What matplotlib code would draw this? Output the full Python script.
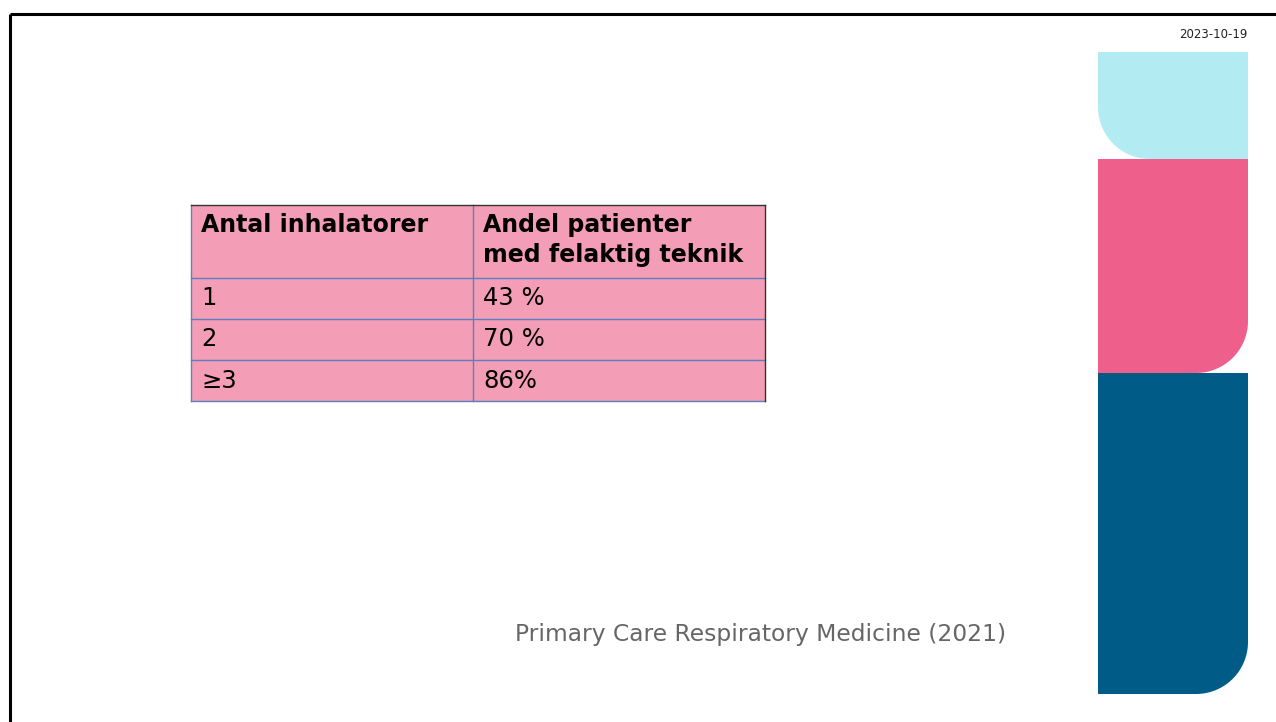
import matplotlib
matplotlib.use('Agg')
import matplotlib.pyplot as plt
from matplotlib.patches import Rectangle, PathPatch
from matplotlib.path import Path
import numpy as np

plt.rcParams['font.family'] = ['DejaVu Sans']

# table content
headers = ["Antal inhalatorer", "Andel patienter\nmed felaktig teknik"]
col1 = ["1", "2", "\u22653"]
col2 = ["43 %", "70 %", "86%"]
date_text = "2023-10-19"
source_text = "Primary Care Respiratory Medicine (2021)"

W, H = 1276, 722
fig = plt.figure(figsize=(W/100, H/100), dpi=100)
ax = fig.add_axes([0, 0, 1, 1])
ax.set_xlim(0, W)
ax.set_ylim(H, 0)
ax.axis('off')

# slide frame
ax.plot([9.5, W], [13.5, 13.5], color="black", lw=2.2, solid_capstyle="butt")
ax.plot([9.5, 9.5], [13.5, H], color="black", lw=2.2, solid_capstyle="butt")


def rounded_block(x0, y0, x1, y1, r, corner, color):
    # rectangle with one rounded bottom corner ("bl" or "br")
    t = np.linspace(0, np.pi/2, 30)
    if corner == "bl":
        cx, cy = x0 + r, y1 - r
        arc = [(cx - r*np.cos(a), cy + r*np.sin(a)) for a in t]
        pts = [(x0, y0), (x1, y0), (x1, y1)] + arc[::-1] + [(x0, y0)]
    else:
        cx, cy = x1 - r, y1 - r
        arc = [(cx + r*np.cos(a), cy + r*np.sin(a)) for a in t]
        pts = [(x0, y0), (x1, y0)] + arc + [(x0, y1), (x0, y0)]
    ax.add_patch(PathPatch(Path(pts), facecolor=color, edgecolor="none"))


rounded_block(1098, 52, 1248, 159, 52, "bl", "#b2ebf2")
rounded_block(1098, 159, 1248, 373, 52, "br", "#ee5f8c")
rounded_block(1098, 373, 1248, 694, 52, "br", "#005b87")

ax.text(1248, 34, date_text, fontsize=8.5, ha="right", va="center", color="#222222")

# table
tx0, tx1, tdiv = 191, 765, 473
row_y = [205, 277.5, 318.5, 360, 401]
ax.add_patch(Rectangle((tx0, row_y[0]), tx1 - tx0, row_y[-1] - row_y[0],
                       facecolor="#f49db6", edgecolor="none"))
line_c = "#5b7fc0"
for y in row_y[1:-1]:
    ax.plot([tx0, tx1], [y, y], color=line_c, lw=1)
ax.plot([tdiv, tdiv], [row_y[0], row_y[-1]], color=line_c, lw=1)
ax.plot([tx0, tx0], [row_y[0], row_y[-1]], color="#6a7fb0", lw=1)
ax.plot([tx0, tx1], [row_y[-1], row_y[-1]], color=line_c, lw=1)
ax.plot([tx0, tx1], [row_y[0], row_y[0]], color="#333333", lw=1)
ax.plot([tx1, tx1], [row_y[0], row_y[-1]], color="#333333", lw=1)

fs_head = 17
fs_body = 17.5
ax.text(tx0 + 10, row_y[0] + 8, headers[0], fontsize=fs_head, fontweight="bold",
        ha="left", va="top", color="black", linespacing=1.3)
ax.text(tdiv + 10, row_y[0] + 8, headers[1], fontsize=fs_head, fontweight="bold",
        ha="left", va="top", color="black", linespacing=1.3)
for i in range(len(col1)):
    yc = (row_y[i+1] + row_y[i+2]) / 2
    ax.text(tx0 + 10, yc, col1[i], fontsize=fs_body, ha="left", va="center")
    ax.text(tdiv + 10, yc, col2[i], fontsize=fs_body, ha="left", va="center")

ax.text(1006, 634, source_text, fontsize=16.8, ha="right", va="center",
        color="#666666")

fig.savefig("out.png", dpi=100)
